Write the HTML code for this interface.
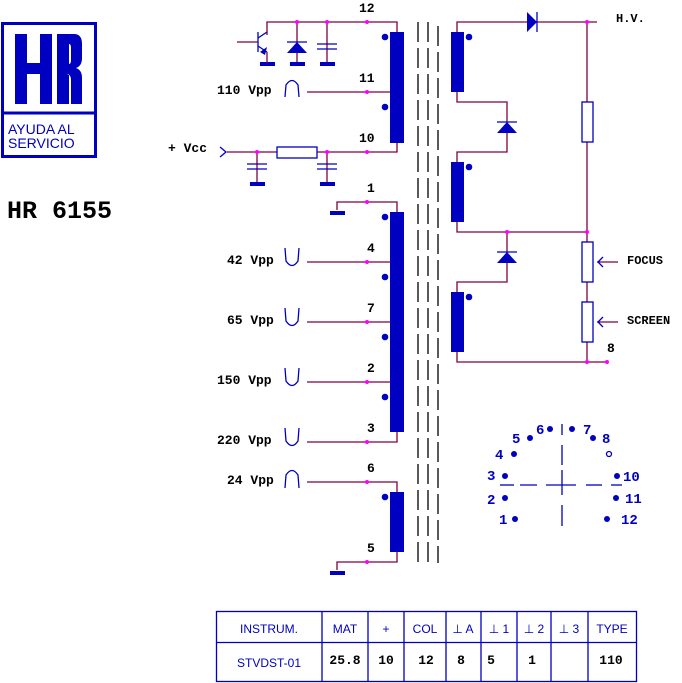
<!DOCTYPE html>
<html><head><meta charset="utf-8"><style>
body{margin:0;background:#fff}
svg{display:block}
.b{font-family:"Liberation Mono",monospace;font-weight:bold;font-size:13px;fill:#000}
.s{font-family:"Liberation Sans",sans-serif;font-size:12px;fill:#0000c0}
.p{font-family:"Liberation Mono",monospace;font-weight:bold;font-size:14px;fill:#0000c0}
</style></head><body>
<svg width="682" height="683" viewBox="0 0 682 683" xmlns="http://www.w3.org/2000/svg">
<!-- logo -->
<rect x="2.5" y="23.5" width="93" height="133" fill="none" stroke="#0000c0" stroke-width="3"/>
<line x1="2" y1="113" x2="96" y2="113" stroke="#0000c0" stroke-width="3"/>
<g fill="#0000c0">
<rect x="15" y="34" width="12" height="70"/><rect x="40" y="34" width="12" height="70"/><rect x="15" y="63" width="37" height="11"/>
<path d="M57,34 H74 Q82,34 82,44 V58 Q82,66 76,68 Q82,70 82,78 V104 H71 V80 Q71,74 66,74 H68 V74 H69 V104 H57 Z M69,44 V64 H69 Q71,64 71,60 V48 Q71,44 69,44 Z" fill-rule="evenodd"/>
</g>
<text x="8" y="134" font-family="Liberation Sans,sans-serif" font-size="14" fill="#0000c0">AYUDA AL</text>
<text x="8" y="148" font-family="Liberation Sans,sans-serif" font-size="14" fill="#0000c0">SERVICIO</text>
<text x="7" y="218" font-family="Liberation Mono,monospace" font-weight="bold" font-size="25" fill="#000">HR 6155</text>

<g stroke="#800040" stroke-width="1.3" fill="none">
<polyline points="267,35 267,22 397,22 397,32"/>
<line x1="297" y1="22" x2="297" y2="63"/>
<line x1="327" y1="22" x2="327" y2="63"/>
<line x1="307" y1="92" x2="397" y2="92"/>
<polyline points="227,152 397,152 397,143"/>
<line x1="257" y1="152" x2="257" y2="183"/>
<line x1="327" y1="152" x2="327" y2="183"/>
<polyline points="337,210 337,202 397,202 397,212"/>
<line x1="307" y1="262" x2="397" y2="262"/>
<line x1="307" y1="322" x2="397" y2="322"/>
<line x1="307" y1="382" x2="397" y2="382"/>
<polyline points="307,442 397,442 397,432"/>
<polyline points="307,482 397,482 397,492"/>
<polyline points="337,570 337,562 397,562 397,552"/>
<polyline points="457,32 457,22 597,22"/>
<polyline points="457,92 457,102 507,102 507,152 457,152 457,162"/>
<polyline points="457,222 457,232 587,232"/>
<polyline points="507,232 507,282 457,282 457,292"/>
<polyline points="457,352 457,362 607,362"/>
<line x1="587" y1="22" x2="587" y2="362"/>
<line x1="597" y1="262" x2="618" y2="262"/>
<line x1="597" y1="322" x2="618" y2="322"/>
</g>
<g fill="#0000c0" stroke="none">
<rect x="390" y="32" width="14" height="111"/>
<rect x="390" y="212" width="14" height="220"/>
<rect x="390" y="492" width="14" height="60"/>
<rect x="451" y="32" width="13" height="60"/>
<rect x="451" y="162" width="13" height="60"/>
<rect x="451" y="292" width="13" height="60"/>
<circle cx="385" cy="37" r="3.3"/><circle cx="385" cy="107" r="3.3"/>
<circle cx="385" cy="217" r="3.3"/><circle cx="385" cy="277" r="3.3"/><circle cx="385" cy="337" r="3.3"/><circle cx="385" cy="397" r="3.3"/>
<circle cx="385" cy="497" r="3.3"/>
<circle cx="469" cy="37" r="3.3"/><circle cx="469" cy="167" r="3.3"/><circle cx="469" cy="297" r="3.3"/>
<rect x="260" y="62" width="15" height="4"/><rect x="290" y="62" width="15" height="4"/><rect x="320" y="62" width="15" height="4"/>
<rect x="250" y="182" width="15" height="4"/><rect x="320" y="182" width="15" height="4"/>
<rect x="330" y="211" width="15" height="4"/><rect x="330" y="571" width="15" height="4"/>
<polygon points="287,53 307,53 297,42"/>
<polygon points="497,133 517,133 507,122"/>
<polygon points="497,263 517,263 507,252"/>
<polygon points="527,12 527,32 537,22"/>
<polygon points="260,52 267,47 265,55"/>
</g>
<g stroke="#0000c0" stroke-width="1.3" fill="none">
<line x1="287" y1="42" x2="307" y2="42"/>
<line x1="497" y1="122" x2="517" y2="122"/>
<line x1="497" y1="252" x2="517" y2="252"/>
<line x1="537" y1="12" x2="537" y2="32"/>
<line x1="237" y1="42" x2="258" y2="42" stroke="#800040"/>
<line x1="258" y1="32" x2="258" y2="52"/>
<line x1="258" y1="38" x2="267" y2="32"/>
<line x1="258" y1="46" x2="267" y2="52"/>
<line x1="267" y1="52" x2="267" y2="63" stroke="#800040"/>
<line x1="317" y1="44" x2="337" y2="44"/><line x1="317" y1="49" x2="337" y2="49"/>
<line x1="247" y1="164" x2="267" y2="164"/><line x1="247" y1="169" x2="267" y2="169"/>
<line x1="317" y1="164" x2="337" y2="164"/><line x1="317" y1="169" x2="337" y2="169"/>
<rect x="277" y="147" width="40" height="11" fill="#fff"/>
<rect x="582" y="102" width="11" height="40" fill="#fff"/>
<rect x="582" y="242" width="11" height="40" fill="#fff"/>
<rect x="582" y="302" width="11" height="40" fill="#fff"/>
<polyline points="603,257 598,262 603,267"/>
<polyline points="603,317 598,322 603,327"/>
<polyline points="220,147 226,152 220,157"/>
<path d="M285,97 L286,85 Q292,76 298,85 L299,97"/>
<path d="M285,488 L286,475 Q292,466 298,475 L299,488"/>
<path d="M285,248 L286,261 Q292,270 298,261 L299,248"/>
<path d="M285,308 L286,321 Q292,330 298,321 L299,308"/>
<path d="M285,368 L286,381 Q292,390 298,381 L299,368"/>
<path d="M285,428 L286,441 Q292,450 298,441 L299,428"/>
<line x1="562" y1="424" x2="562" y2="435"/><line x1="562" y1="445" x2="562" y2="465"/>
<line x1="562" y1="470" x2="562" y2="495"/><line x1="562" y1="505" x2="562" y2="526"/>
<line x1="500" y1="485" x2="514" y2="485"/><line x1="520" y1="485" x2="537" y2="485"/>
<line x1="546" y1="485" x2="576" y2="485"/><line x1="586" y1="485" x2="602" y2="485"/>
<line x1="611" y1="485" x2="622" y2="485"/>
<circle cx="609" cy="454" r="2.5"/>
</g>
<g stroke="#000" stroke-width="1.3" stroke-dasharray="20,6">
<line x1="418" y1="22" x2="418" y2="563"/><line x1="428" y1="22" x2="428" y2="563"/><line x1="438" y1="26" x2="438" y2="563"/>
</g>
<g fill="#ff00ff">
<circle cx="297" cy="22" r="2"/><circle cx="327" cy="22" r="2"/><circle cx="367" cy="22" r="2"/>
<circle cx="367" cy="92" r="2"/><circle cx="257" cy="152" r="2"/><circle cx="327" cy="152" r="2"/><circle cx="367" cy="152" r="2"/>
<circle cx="367" cy="202" r="2"/><circle cx="367" cy="262" r="2"/><circle cx="367" cy="322" r="2"/><circle cx="367" cy="382" r="2"/><circle cx="367" cy="442" r="2"/><circle cx="367" cy="482" r="2"/><circle cx="367" cy="562" r="2"/>
<circle cx="587" cy="22" r="2"/><circle cx="507" cy="232" r="2"/><circle cx="587" cy="232" r="2"/><circle cx="587" cy="362" r="2"/><circle cx="607" cy="362" r="2"/>
</g>
<g fill="#0000c0">
<circle cx="550" cy="429" r="3"/><circle cx="572" cy="429" r="3"/><circle cx="530" cy="438" r="3"/><circle cx="593" cy="438" r="3"/>
<circle cx="514" cy="454" r="3"/><circle cx="505" cy="476" r="3"/><circle cx="617" cy="476" r="3"/>
<circle cx="505" cy="498" r="3"/><circle cx="616" cy="498" r="3"/><circle cx="515" cy="519" r="3"/><circle cx="607" cy="519" r="3"/>
</g>
<g class="p">
<text x="536" y="434">6</text><text x="583" y="434">7</text><text x="512" y="443">5</text><text x="602" y="443">8</text>
<text x="495" y="459">4</text><text x="487" y="480">3</text><text x="623" y="481">10</text>
<text x="487" y="504">2</text><text x="625" y="503">11</text><text x="499" y="524">1</text><text x="621" y="524">12</text>
</g>
<g class="b">
<text x="359" y="12">12</text><text x="359" y="82">11</text><text x="359" y="142">10</text>
<text x="367" y="192">1</text><text x="367" y="252">4</text><text x="367" y="312">7</text><text x="367" y="372">2</text><text x="367" y="432">3</text><text x="367" y="472">6</text><text x="367" y="552">5</text>
<text x="217" y="94">110 Vpp</text><text x="168" y="152">+ Vcc</text>
<text x="227" y="264">42 Vpp</text><text x="227" y="324">65 Vpp</text><text x="217" y="384">150 Vpp</text><text x="217" y="444">220 Vpp</text><text x="227" y="484">24 Vpp</text>
<text x="616" y="22" font-size="12">H.V.</text><text x="627" y="264" font-size="12">FOCUS</text><text x="627" y="324" font-size="12">SCREEN</text>
<text x="607" y="352">8</text>
</g>
<g stroke="#0000c0" stroke-width="1.3" fill="none">
<rect x="216.5" y="611.5" width="420" height="70"/>
<line x1="216" y1="642.5" x2="637" y2="642.5"/>
<line x1="322" y1="611" x2="322" y2="682"/><line x1="368" y1="611" x2="368" y2="682"/><line x1="404" y1="611" x2="404" y2="682"/>
<line x1="446" y1="611" x2="446" y2="682"/><line x1="481" y1="611" x2="481" y2="682"/><line x1="517" y1="611" x2="517" y2="682"/>
<line x1="551" y1="611" x2="551" y2="682"/><line x1="588" y1="611" x2="588" y2="682"/>
</g>
<g class="s" text-anchor="middle">
<text x="269" y="633">INSTRUM.</text><text x="345" y="633">MAT</text><text x="386" y="633">+</text><text x="425" y="633">COL</text>
<text x="463" y="633">⊥ A</text><text x="499" y="633">⊥ 1</text><text x="534" y="633">⊥ 2</text><text x="569" y="633">⊥ 3</text><text x="612" y="633">TYPE</text>
<text x="269" y="667">STVDST-01</text>
</g>
<g class="b" text-anchor="middle">
<text x="345" y="664">25.8</text><text x="386" y="664">10</text><text x="426" y="664">12</text><text x="461" y="664">8</text><text x="491" y="664">5</text><text x="532" y="664">1</text><text x="611" y="664">110</text>
</g>
</svg>
</body></html>
